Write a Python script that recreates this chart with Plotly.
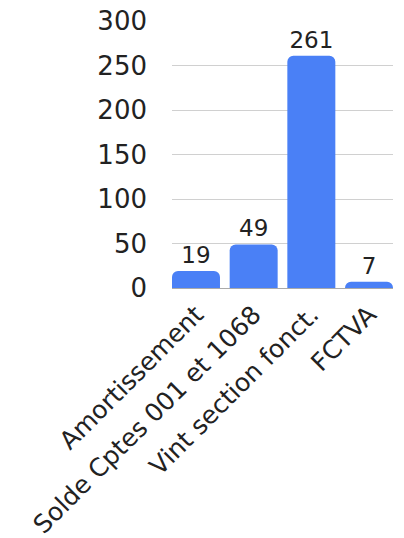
import plotly.graph_objects as go

categories = ["Amortissement", "Solde Cptes 001 et 1068", "Vint section fonct.", "FCTVA"]
values = [19, 49, 261, 7]
y_ticks = [0, 50, 100, 150, 200, 250, 300]

font_family = "DejaVu Sans, sans-serif"
bar_gap = 0.168

fig = go.Figure(go.Bar(
    x=categories,
    y=values,
    marker=dict(color="#4a80f6", line=dict(width=0)),
    text=[str(v) for v in values],
    textposition="outside",
    textfont=dict(size=23, color="#222222", family=font_family),
    cliponaxis=False,
    hoverinfo="skip",
))

fig.update_layout(
    width=404,
    height=538,
    margin=dict(l=172, r=11, t=21, b=250, autoexpand=False),
    paper_bgcolor="white",
    plot_bgcolor="white",
    bargap=bar_gap,
    barcornerradius=6,
    showlegend=False,
    font=dict(family=font_family, color="#222222", size=20),
)

fig.update_yaxes(
    range=[0, 300],
    tickvals=y_ticks,
    ticktext=[str(t) for t in y_ticks],
    showgrid=True,
    gridcolor="#d0d0d0",
    gridwidth=1,
    zeroline=True,
    zerolinecolor="#aaaaaa",
    zerolinewidth=1,
    tickfont=dict(size=26, family=font_family, color="#222222"),
    ticklabelstandoff=24,
    showline=False,
    automargin=False,
)

fig.update_xaxes(
    range=[-0.5 + bar_gap / 2, len(categories) - 0.5 - bar_gap / 2],
    tickangle=-45,
    tickfont=dict(size=25, family=font_family, color="#222222"),
    ticklabelstandoff=6,
    showgrid=False,
    showline=False,
    automargin=False,
)

fig.write_html(
    "out.html",
    config={"displayModeBar": False},
    post_script="document.body.style.margin='0';document.body.style.overflow='hidden';",
)
